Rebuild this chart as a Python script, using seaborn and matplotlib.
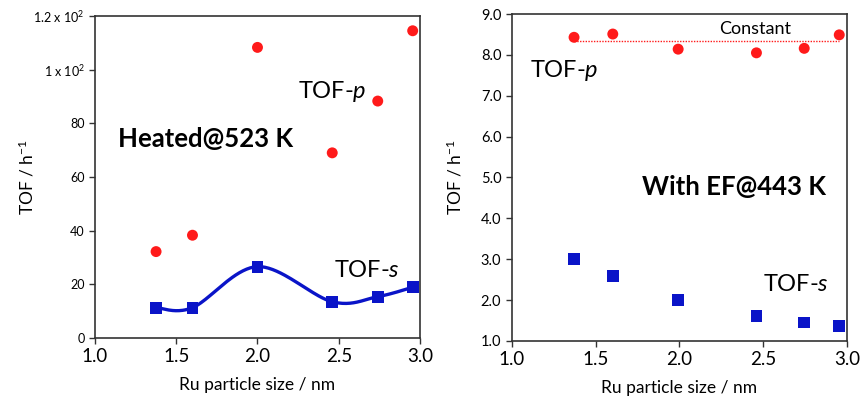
import numpy as np
import pandas as pd
import matplotlib
matplotlib.use("Agg")
import matplotlib.pyplot as plt
import seaborn as sns

# ---- data ----
size_left = [1.376, 1.60, 2.00, 2.46, 2.74, 2.955]
tof_p_left = [32.2, 38.3, 108.3, 69.0, 88.3, 114.5]
tof_s_left = [11.3, 11.3, 26.6, 13.5, 15.4, 18.9]

size_right = [1.372, 1.603, 1.993, 2.46, 2.745, 2.954]
tof_p_right = [8.43, 8.51, 8.14, 8.05, 8.16, 8.49]
tof_s_right = [3.00, 2.59, 2.01, 1.61, 1.45, 1.37]
constant_level = 8.35

left_yticks = [0, 20, 40, 60, 80, 100, 120]
left_yticklabels = ["0", "20", "40", "60", "80", r"1 x 10$^{2}$", r"1.2 x 10$^{2}$"]
right_yticks = [1, 2, 3, 4, 5, 6, 7, 8, 9]
right_yticklabels = ["1.0", "2.0", "3.0", "4.0", "5.0", "6.0", "7.0", "8.0", "9.0"]
xticks = [1.0, 1.5, 2.0, 2.5, 3.0]
xticklabels = ["1.0", "1.5", "2.0", "2.5", "3.0"]

sns.set_theme(style="white")
plt.rcParams["font.family"] = ["Lato", "DejaVu Sans"]
plt.rcParams["mathtext.fontset"] = "custom"
plt.rcParams["mathtext.rm"] = "Lato"
plt.rcParams["mathtext.it"] = "Lato:italic"
plt.rcParams["text.color"] = "black"
plt.rcParams["axes.labelcolor"] = "black"
plt.rcParams["xtick.color"] = "black"
plt.rcParams["ytick.color"] = "black"

RED = "#ff1a1a"
BLUE = "#0a14c8"
SPINE = "#333333"


def catmull_rom(xs, ys, n=40):
    P = np.column_stack([xs, ys]).astype(float)
    P = np.vstack([P[0], P, P[-1]])
    out = []
    t = np.linspace(0, 1, n)[:, None]
    for i in range(1, len(P) - 2):
        p0, p1, p2, p3 = P[i - 1], P[i], P[i + 1], P[i + 2]
        m1 = (p2 - p0) / 2
        m2 = (p3 - p1) / 2
        h00 = 2 * t**3 - 3 * t**2 + 1
        h10 = t**3 - 2 * t**2 + t
        h01 = -2 * t**3 + 3 * t**2
        h11 = t**3 - t**2
        seg = h00 * p1 + h10 * m1 + h01 * p2 + h11 * m2
        out.append(seg if i == 1 else seg[1:])
    return np.vstack(out)


fig = plt.figure(figsize=(8.61, 3.99), dpi=100)
axL = fig.add_axes([0.1103, 0.1529, 0.3775, 0.807])
axR = fig.add_axes([0.5943, 0.1454, 0.3894, 0.8195])

# ---- left panel ----
dfL = pd.DataFrame({"size": size_left, "p": tof_p_left, "s": tof_s_left})
curve = catmull_rom(size_left, tof_s_left)
dfC = pd.DataFrame({"x": curve[:, 0], "y": curve[:, 1]})
sns.lineplot(data=dfC, x="x", y="y", ax=axL, color=BLUE, lw=2.4, sort=False,
             estimator=None, zorder=2)
sns.scatterplot(data=dfL, x="size", y="p", ax=axL, color=RED, marker="o",
                s=62, edgecolor="none", zorder=3)
sns.scatterplot(data=dfL, x="size", y="s", ax=axL, color=BLUE, marker="s",
                s=72, edgecolor="none", zorder=3)
axL.set_xlim(1.0, 3.0)
axL.set_ylim(0, 120)
axL.set_yticks(left_yticks)
axL.set_yticklabels(left_yticklabels, fontsize=9)
axL.text(1.14, 74, "Heated@523 K", fontsize=18.5, fontweight="bold", va="center", ha="left")
axL.text(2.25, 92, r"TOF-$\it{p}$", fontsize=17, va="center", ha="left")
axL.text(2.47, 25, r"TOF-$\it{s}$", fontsize=17, va="center", ha="left")

# ---- right panel ----
dfR = pd.DataFrame({"size": size_right, "p": tof_p_right, "s": tof_s_right})
axR.plot([size_right[0], size_right[-1]], [constant_level, constant_level],
         color=RED, lw=1.0, ls=(0, (1, 1)), zorder=2)
sns.scatterplot(data=dfR, x="size", y="p", ax=axR, color=RED, marker="o",
                s=62, edgecolor="none", zorder=3)
sns.scatterplot(data=dfR, x="size", y="s", ax=axR, color=BLUE, marker="s",
                s=72, edgecolor="none", zorder=3)
axR.set_xlim(1.0, 3.0)
axR.set_ylim(1.0, 9.0)
axR.set_yticks(right_yticks)
axR.set_yticklabels(right_yticklabels, fontsize=10.5)
axR.text(2.24, 8.63, "Constant", fontsize=13, va="center", ha="left")
axR.text(1.11, 7.62, r"TOF-$\it{p}$", fontsize=17, va="center", ha="left")
axR.text(1.78, 4.77, "With EF@443 K", fontsize=18.5, fontweight="bold", va="center", ha="left")
axR.text(2.5, 2.38, r"TOF-$\it{s}$", fontsize=17, va="center", ha="left")

for ax in (axL, axR):
    ax.set_xticks(xticks)
    ax.set_xticklabels(xticklabels, fontsize=13.5)
    ax.set_xlabel("Ru particle size / nm", fontsize=12.5, labelpad=8)
    ax.set_ylabel(r"TOF / h$^{-1}$", fontsize=12.5)
    ax.tick_params(direction="out", length=4, width=1, color=SPINE, bottom=True, left=True)
    for sp in ax.spines.values():
        sp.set_color(SPINE)
        sp.set_linewidth(1.2)

axL.yaxis.set_label_coords(-0.18, 0.5)
axR.yaxis.set_label_coords(-0.14, 0.5)

fig.savefig("out.png", dpi=100)
